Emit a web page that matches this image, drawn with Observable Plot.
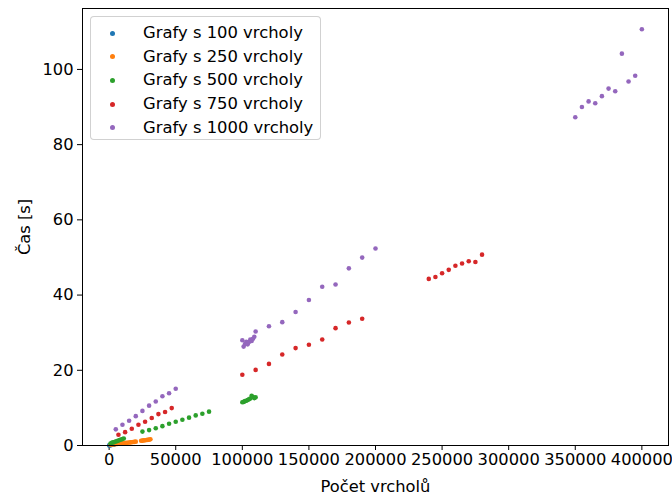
<!DOCTYPE html>
<html>
<head>
<meta charset="utf-8">
<script src="https://cdn.jsdelivr.net/npm/d3@7"></script>
<script src="https://cdn.jsdelivr.net/npm/@observablehq/plot@0.6"></script>
<style>
  html, body { margin: 0; padding: 0; background: #fff; }
  #wrap { position: relative; width: 672px; height: 496px; font-family: "DejaVu Sans", sans-serif; }
  #legend { position: absolute; left: 90px; top: 16px; width: 231px; height: 124px; box-sizing: border-box;
            border: 1px solid rgba(204,204,204,0.9); border-radius: 4px; background: rgba(255,255,255,0.8);
            padding-top: 4px; font-size: 16.4px; color: #000; }
  .row { height: 23.7px; line-height: 23.7px; position: relative; }
  .mk { position: absolute; left: 19px; top: 9.5px; width: 5px; height: 5px; border-radius: 50%; }
  .tx { position: absolute; left: 52px; top: 0; white-space: nowrap; }
</style>
</head>
<body>
<div id="wrap"><div id="chart"></div><div id="legend"></div></div>
<script>
const seriesNames = ["Grafy s 100 vrcholy", "Grafy s 250 vrcholy", "Grafy s 500 vrcholy", "Grafy s 750 vrcholy", "Grafy s 1000 vrcholy"];
const seriesColors = ["#1f77b4", "#ff7f0e", "#2ca02c", "#d62728", "#9467bd"];

const x100 = [0, 500, 1000, 1500, 2000, 2500, 3000, 3500, 4000, 4500];
const y100 = [0.02, 0.05, 0.08, 0.12, 0.16, 0.2, 0.25, 0.3, 0.36, 0.42];

const x250 = [1000, 2000, 3000, 4000, 5000, 6000, 7000, 8000, 9000, 10000, 11000, 12000, 13000, 14000, 15000, 16000, 17000, 18000, 19000, 20000,
              24000, 25000, 26000, 27000, 28000, 29000, 30000, 31000];
const y250 = [0.2, 0.25, 0.3, 0.33, 0.37, 0.42, 0.46, 0.5, 0.54, 0.58, 0.62, 0.67, 0.71, 0.75, 0.8, 0.84, 0.88, 0.93, 0.97, 1.02,
              1.25, 1.3, 1.35, 1.4, 1.45, 1.5, 1.55, 1.65];

const x500 = [1000, 2000, 3000, 4000, 5000, 6000, 7000, 8000, 9000, 10000, 11000,
              25000, 30000, 35000, 40000, 45000, 50000, 55000, 60000, 65000, 70000, 75000,
              100000, 101000, 102000, 103000, 104000, 105000, 106000, 107000, 108000, 109000, 110000];
const y500 = [0.55, 0.7, 0.82, 0.95, 1.08, 1.2, 1.33, 1.45, 1.58, 1.72, 1.85,
              3.7, 4.1, 4.6, 5.15, 5.8, 6.3, 6.85, 7.4, 8.0, 8.45, 9.0,
              11.5, 11.6, 11.8, 11.9, 12.1, 12.3, 12.5, 13.2, 12.9, 12.6, 12.8];

const x750 = [7000, 12000, 17000, 22000, 27000, 32000, 37000, 42000, 47000,
              100000, 110000, 120000, 130000, 140000, 150000, 160000, 170000, 180000, 190000,
              240000, 245000, 250000, 255000, 260000, 265000, 270000, 275000, 280000];
const y750 = [2.85, 3.55, 4.45, 5.5, 6.3, 7.3, 8.35, 8.9, 9.95,
              18.8, 20.1, 21.7, 24.2, 25.9, 26.8, 28.2, 31.2, 32.7, 33.7,
              44.3, 44.8, 45.8, 46.7, 47.8, 48.4, 49.0, 48.8, 50.75];

const x1000 = [5000, 10000, 15000, 20000, 25000, 30000, 35000, 40000, 45000, 50000,
               100000, 101000, 102000, 103000, 104000, 105000, 106000, 107000, 108000, 109000, 110000,
               120000, 130000, 140000, 150000, 160000, 170000, 180000, 190000, 200000,
               350000, 355000, 360000, 365000, 370000, 375000, 380000, 385000, 390000, 395000, 400000];
const y1000 = [4.3, 5.5, 6.6, 7.8, 9.2, 10.6, 11.7, 13.1, 13.9, 15.1,
               28.0, 26.3, 27.0, 27.6, 26.9, 27.5, 28.2, 27.8, 28.4, 28.9, 30.3,
               31.7, 32.8, 35.5, 38.7, 42.2, 42.8, 47.1, 49.96, 52.4,
               87.3, 90.0, 91.5, 91.0, 92.9, 94.9, 94.2, 104.2, 96.8, 98.3, 110.7];

const xTicks = [0, 50000, 100000, 150000, 200000, 250000, 300000, 350000, 400000];
const yTicks = [0, 20, 40, 60, 80, 100];

const xs = [x100, x250, x500, x750, x1000];
const ys = [y100, y250, y500, y750, y1000];
const rows = [];
xs.forEach((arr, i) => arr.forEach((x, j) => rows.push({series: seriesNames[i], x, y: ys[i][j]})));

const chart = Plot.plot({
  width: 672,
  height: 496,
  marginLeft: 82,
  marginRight: 4,
  marginTop: 8,
  marginBottom: 51,
  style: {fontFamily: "DejaVu Sans, sans-serif", fontSize: "16.3px", color: "#000", background: "#fff"},
  x: {domain: [-20000, 420000], ticks: xTicks, tickFormat: d => String(d), tickSize: 5, tickPadding: 3,
      label: "Počet vrcholů", labelAnchor: "center", labelOffset: 46, labelArrow: "none"},
  y: {domain: [0, 116.2], ticks: yTicks, tickFormat: d => String(d), tickSize: 5, tickPadding: 4,
      label: "Čas [s]", labelAnchor: "center", labelOffset: 64, labelArrow: "none"},
  color: {domain: seriesNames, range: seriesColors},
  marks: [
    Plot.dot(rows, {x: "x", y: "y", fill: "series", r: 2.3, stroke: null}),
    Plot.frame({stroke: "#000", strokeWidth: 1})
  ]
});
document.getElementById("chart").appendChild(chart);

const legend = document.getElementById("legend");
seriesNames.forEach((name, i) => {
  const row = document.createElement("div");
  row.className = "row";
  const mk = document.createElement("span");
  mk.className = "mk";
  mk.style.background = seriesColors[i];
  const tx = document.createElement("span");
  tx.className = "tx";
  tx.textContent = name;
  row.appendChild(mk); row.appendChild(tx);
  legend.appendChild(row);
});
</script>
</body>
</html>
